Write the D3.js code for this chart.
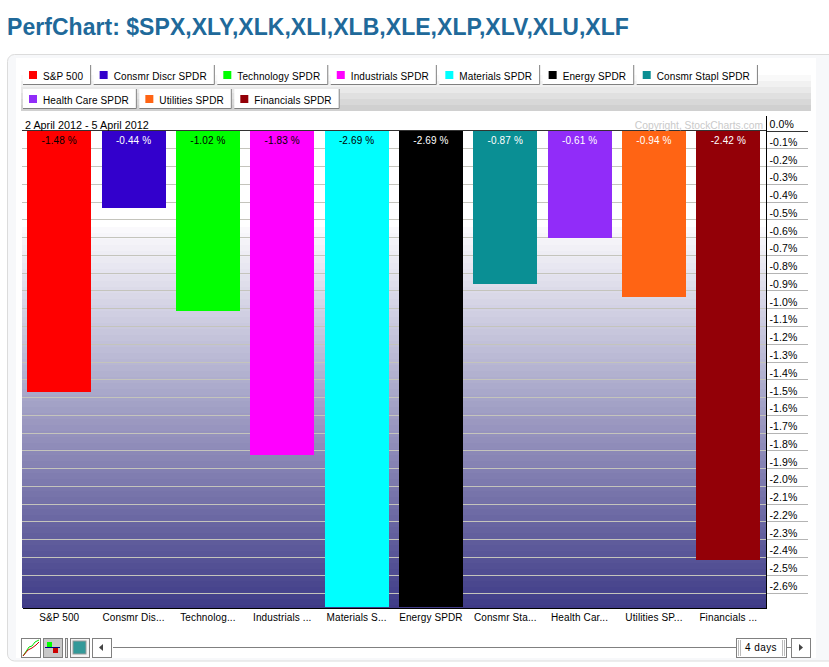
<!DOCTYPE html>
<html>
<head>
<meta charset="utf-8">
<title>PerfChart</title>
<script src="https://d3js.org/d3.v7.min.js"></script>
<style>
  html, body { margin: 0; padding: 0; background: #fff; }
  svg { display: block; }
  text { font-family: "Liberation Sans", Arial, sans-serif; }
  .small { font-size: 10px; letter-spacing: .12px; fill: #000; }
</style>
</head>
<body>
<svg id="chart" width="829" height="667"></svg>
<script>
const titleText = 'PerfChart: $SPX,XLY,XLK,XLI,XLB,XLE,XLP,XLV,XLU,XLF';
const dateRange = '2 April 2012 - 5 April 2012';
const seriesNames = ['S&P 500', 'Consmr Discr SPDR', 'Technology SPDR', 'Industrials SPDR', 'Materials SPDR',
  'Energy SPDR', 'Consmr Stapl SPDR', 'Health Care SPDR', 'Utilities SPDR', 'Financials SPDR'];
const shortNames = ['S&P 500', 'Consmr Dis...', 'Technolog...', 'Industrials ...', 'Materials S...',
  'Energy SPDR', 'Consmr Sta...', 'Health Car...', 'Utilities SP...', 'Financials ...'];
const changes = [-1.48, -0.44, -1.02, -1.83, -2.69, -2.69, -0.87, -0.61, -0.94, -2.42];
const colors = ['#ff0000', '#3300cc', '#00ff00', '#ff00ff', '#00ffff', '#000000', '#0a8f94', '#912cf9', '#ff6414', '#930007'];
const darkLabels = ['S&P 500', 'Technology SPDR', 'Industrials SPDR', 'Materials SPDR'];
const yTicks = ['0.0', '-0.1', '-0.2', '-0.3', '-0.4', '-0.5', '-0.6', '-0.7', '-0.8', '-0.9', '-1.0', '-1.1', '-1.2',
  '-1.3', '-1.4', '-1.5', '-1.6', '-1.7', '-1.8', '-1.9', '-2.0', '-2.1', '-2.2', '-2.3', '-2.4', '-2.5', '-2.6'];

const svg = d3.select('#chart');
const plot = { left: 22, right: 766.5, top: 130.5, bottom: 608 };

const x = d3.scaleBand().domain(seriesNames).range([plot.left, plot.right - 1]).paddingInner(0.139).paddingOuter(0.07);
const y = d3.scaleLinear().domain([0, -2.6]).range([plot.top, 592.5]);

// page frame
svg.append('text').attr('x', 7).attr('y', 35).text(titleText)
  .style('font-size', '23px').style('letter-spacing', '.04px').style('font-weight', 'bold').attr('fill', '#20699a');
svg.append('rect').attr('x', 7.5).attr('y', 54.5).attr('width', 840).attr('height', 606.5).attr('rx', 7)
  .attr('fill', '#f7f8fa').attr('stroke', '#dcdcdc');
svg.append('rect').attr('x', 16).attr('y', 58).attr('width', 800).attr('height', 600).attr('fill', '#fff');

// legend strip behind the tabs
const stripColor = d3.interpolateRgb('#f9f9f9', '#d0d0d0');
svg.append('g').selectAll('rect').data(d3.range(6)).join('rect')
  .attr('x', 21).attr('width', 790).attr('y', d => 75 + d * 6).attr('height', 6)
  .attr('fill', d => stripColor(d / 5));

// legend tabs, flowed left to right and wrapped
const legend = svg.append('g');
let tabX = 23, tabY = 65;
seriesNames.forEach((name, i) => {
  const tab = legend.append('g');
  const rect = tab.append('rect').attr('fill', '#fff');
  const label = tab.append('text').attr('class', 'small').attr('y', 15).text(name);
  const w = label.node().getComputedTextLength() + 28;
  if (tabX + w > 760) { tabX = 23; tabY += 24; }
  tab.attr('transform', `translate(${tabX},${tabY})`);
  rect.attr('width', w).attr('height', 19.5);
  label.attr('x', 20);
  tab.append('path').attr('d', `M${w - 0.5},0V19.5H0`).attr('fill', 'none').attr('stroke', '#808080');
  tab.append('rect').attr('x', 6).attr('y', 6).attr('width', 8).attr('height', 8).attr('fill', colors[i]);
  tabX += w + 2.5;
});

// plot background bands
const bandColor = d3.interpolateRgb('#ffffff', '#403c88');
const bandStep = 6;
svg.append('g').selectAll('rect').data(d3.range(227, plot.bottom, bandStep)).join('rect')
  .attr('x', plot.left).attr('width', plot.right - plot.left)
  .attr('y', d => d).attr('height', d => Math.min(bandStep + 0.5, plot.bottom - d))
  .attr('fill', d => bandColor((d + bandStep - 222) / (plot.bottom - 222)));

// grid
const grid = svg.append('g').attr('transform', `translate(${plot.right},0)`)
  .call(d3.axisLeft(y).tickValues(yTicks.slice(1).map(Number)).tickSize(plot.right - plot.left).tickFormat(''));
grid.select('.domain').remove();
grid.selectAll('line').attr('stroke', '#c4c4bc').attr('shape-rendering', 'crispEdges');

// bars
svg.append('g').selectAll('rect').data(changes).join('rect')
  .attr('x', (d, i) => x(seriesNames[i]))
  .attr('y', y(0))
  .attr('width', x.bandwidth())
  .attr('height', d => y(d) - y(0) - 1)
  .attr('fill', (d, i) => colors[i])
  .attr('shape-rendering', 'crispEdges');

svg.append('g').selectAll('text').data(changes).join('text')
  .attr('class', 'small')
  .attr('x', (d, i) => x(seriesNames[i]) + x.bandwidth() / 2)
  .attr('y', 143.5)
  .attr('text-anchor', 'middle')
  .style('fill', (d, i) => darkLabels.includes(seriesNames[i]) ? '#000' : '#fff')
  .text(d => d.toFixed(2) + ' %');

// right axis, labels sit on top of the tick lines
const yAxis = svg.append('g').attr('transform', `translate(${plot.right},0)`)
  .call(d3.axisRight(y).tickValues(yTicks.map(Number)).tickSize(41).tickFormat((d, i) => yTicks[i] + '%'));
yAxis.select('.domain').remove();
yAxis.selectAll('line').attr('stroke', '#b4b4b4').attr('shape-rendering', 'crispEdges');
yAxis.selectAll('text').attr('class', 'small').attr('x', 3).attr('dy', '-3').attr('text-anchor', 'start')
  .style('font-size', '10.5px');
yAxis.selectAll('.tick').filter(d => d === 0).select('line').attr('stroke', '#333');

svg.append('line').attr('x1', plot.left).attr('x2', plot.right).attr('y1', y(0)).attr('y2', y(0))
  .attr('stroke', '#333').attr('shape-rendering', 'crispEdges');
svg.append('line').attr('x1', plot.right).attr('x2', plot.right).attr('y1', 116).attr('y2', plot.bottom + 0.5)
  .attr('stroke', '#000').attr('shape-rendering', 'crispEdges');

// category labels
const shortByName = new Map(seriesNames.map((n, i) => [n, shortNames[i]]));
const xAxis = svg.append('g').attr('transform', `translate(0,${plot.bottom})`)
  .call(d3.axisBottom(x).tickSize(0).tickFormat(d => shortByName.get(d)));
xAxis.select('.domain').attr('stroke', '#000').attr('shape-rendering', 'crispEdges');
xAxis.selectAll('text').attr('class', 'small').attr('y', 13).attr('dy', 0);

svg.append('text').attr('class', 'small').attr('x', 25).attr('y', 129).text(dateRange)
  .style('font-size', '10.8px').style('letter-spacing', 0);
svg.append('text').attr('class', 'small').attr('x', 763).attr('y', 129).attr('text-anchor', 'end')
  .text('Copyright, StockCharts.com').style('fill', '#cacaca').style('font-size', '10.3px').style('letter-spacing', 0);

// bottom controls
const controls = svg.append('g');
const button = (bx, w, fill) => controls.append('rect').attr('x', bx + 0.5).attr('y', 638.5).attr('width', w).attr('height', 19)
  .attr('fill', fill).attr('stroke', '#808080');
button(21, 19, '#fff');
controls.append('path').attr('d', 'M23,656L29,647L32,646L35,642L39,640').attr('fill', 'none').attr('stroke', '#00e000');
controls.append('path').attr('d', 'M23,656L28,650L32,648L36,645L39,642').attr('fill', 'none').attr('stroke', '#cc0000');
button(43, 19, '#c8c8c8');
controls.append('rect').attr('x', 47).attr('y', 642).attr('width', 5).attr('height', 5).attr('fill', '#00ff00');
controls.append('rect').attr('x', 53).attr('y', 648).attr('width', 5).attr('height', 5).attr('fill', '#cc0000');
controls.append('line').attr('x1', 45).attr('x2', 60).attr('y1', 647.5).attr('y2', 647.5).attr('stroke', '#000080');
button(65, 2, '#e8e8e8');
button(70, 19, '#f4f4f4');
controls.append('rect').attr('x', 73).attr('y', 641).attr('width', 13).attr('height', 13).attr('fill', '#339999').attr('stroke', '#999');
button(92, 19, '#fff');
controls.append('path').attr('d', 'M99,647.5L103,644V651Z').attr('fill', '#444');
controls.append('line').attr('x1', 113).attr('x2', 736).attr('y1', 647.5).attr('y2', 647.5).attr('stroke', '#808080');
controls.append('line').attr('x1', 787).attr('x2', 791).attr('y1', 647.5).attr('y2', 647.5).attr('stroke', '#808080');
button(736, 50, '#fff');
[738, 740, 782, 784].forEach(gx => controls.append('line').attr('x1', gx + 0.5).attr('x2', gx + 0.5)
  .attr('y1', 640).attr('y2', 656).attr('stroke', '#bbb'));
controls.append('text').attr('class', 'small').attr('x', 761).attr('y', 651).attr('text-anchor', 'middle').text('4 days')
  .style('letter-spacing', '.45px');
button(791, 19, '#fff');
controls.append('path').attr('d', 'M803,647.5L799,644V651Z').attr('fill', '#444');
</script>
</body>
</html>
